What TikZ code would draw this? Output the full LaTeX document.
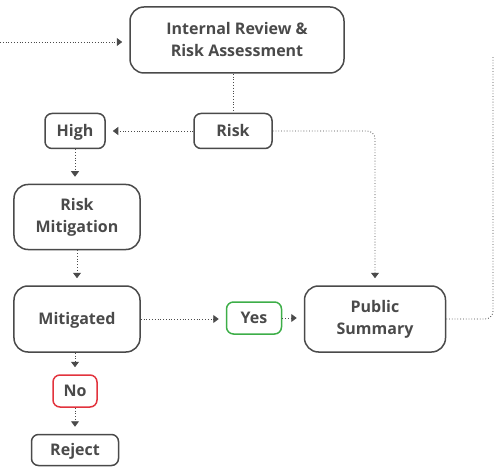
\documentclass[tikz,border=0pt]{standalone}
\usepackage{fontspec}
\setmainfont{Open Sans}
\usetikzlibrary{arrows.meta}

\definecolor{ink}{HTML}{4A4A4A}
\definecolor{okgreen}{HTML}{3DAE48}
\definecolor{nored}{HTML}{E2333D}

\tikzset{
    box/.style={draw=ink, line width=1.5bp, rounded corners=14bp, align=center,
        text=ink, font=\bfseries\fontsize{16bp}{22bp}\selectfont, inner sep=0pt},
    oneline/.style={text height=11.4bp, text depth=0pt},
    tag/.style={box, oneline, rounded corners=7bp},
    link/.style={draw=ink, line width=0.8bp, dotted},
    flow/.style={link, -{Triangle[width=8bp,length=5.5bp]}, shorten >=7bp},
}

\begin{document}
\begin{tikzpicture}[x=1bp, y=-1bp]
        \useasboundingbox (0,0) rectangle (497,467);
        \node[box, minimum width=214bp, minimum height=66bp] (review) at (237,40) {Internal Review \&\\Risk Assessment};
        \node[tag, minimum width=78bp, minimum height=35bp] (risk) at (233,131) {Risk};
        \node[tag, minimum width=60bp, minimum height=35bp] (high) at (75,131) {High};
        \node[box, minimum width=126bp, minimum height=65bp] (mitig) at (77,217) {Risk\\Mitigation};
        \node[box, oneline, minimum width=126bp, minimum height=66bp] (mitigated) at (77,319) {Mitigated};
        \node[tag, draw=okgreen, minimum width=55bp, minimum height=32bp] (yes) at (254,318) {Yes};
        \node[box, minimum width=141bp, minimum height=66bp] (public) at (375,319) {Public\\Summary};
        \node[tag, draw=nored, minimum width=44bp, minimum height=32bp] (no) at (75,391) {No};
        \node[tag, minimum width=87bp, minimum height=31bp] (reject) at (75,450) {Reject};
        \coordinate (entry) at (0,42);
        \coordinate (exit) at (493,57);

        \draw[flow] (entry) -- (entry -| review.west);
        \draw[link] (review.south -| risk.north) -- (risk.north);
        \draw[flow] (risk.west) -- (high.east);
        \draw[flow, rounded corners=8bp] (risk.east) -| (public.north);
        \draw[flow] (high.south) -- (high.south |- mitig.north);
        \draw[flow] (mitig.south) -- (mitigated.north);
        \draw[flow] (mitigated.east) -- (mitigated.east -| yes.west);
        \draw[flow] (yes.east) -- (yes.east -| public.west);
        \draw[link, rounded corners=8bp] (public.east) -| (exit);
        \draw[flow] (mitigated.south -| no.north) -- (no.north);
        \draw[flow] (no.south) -- (reject.north);
\end{tikzpicture}
\end{document}
